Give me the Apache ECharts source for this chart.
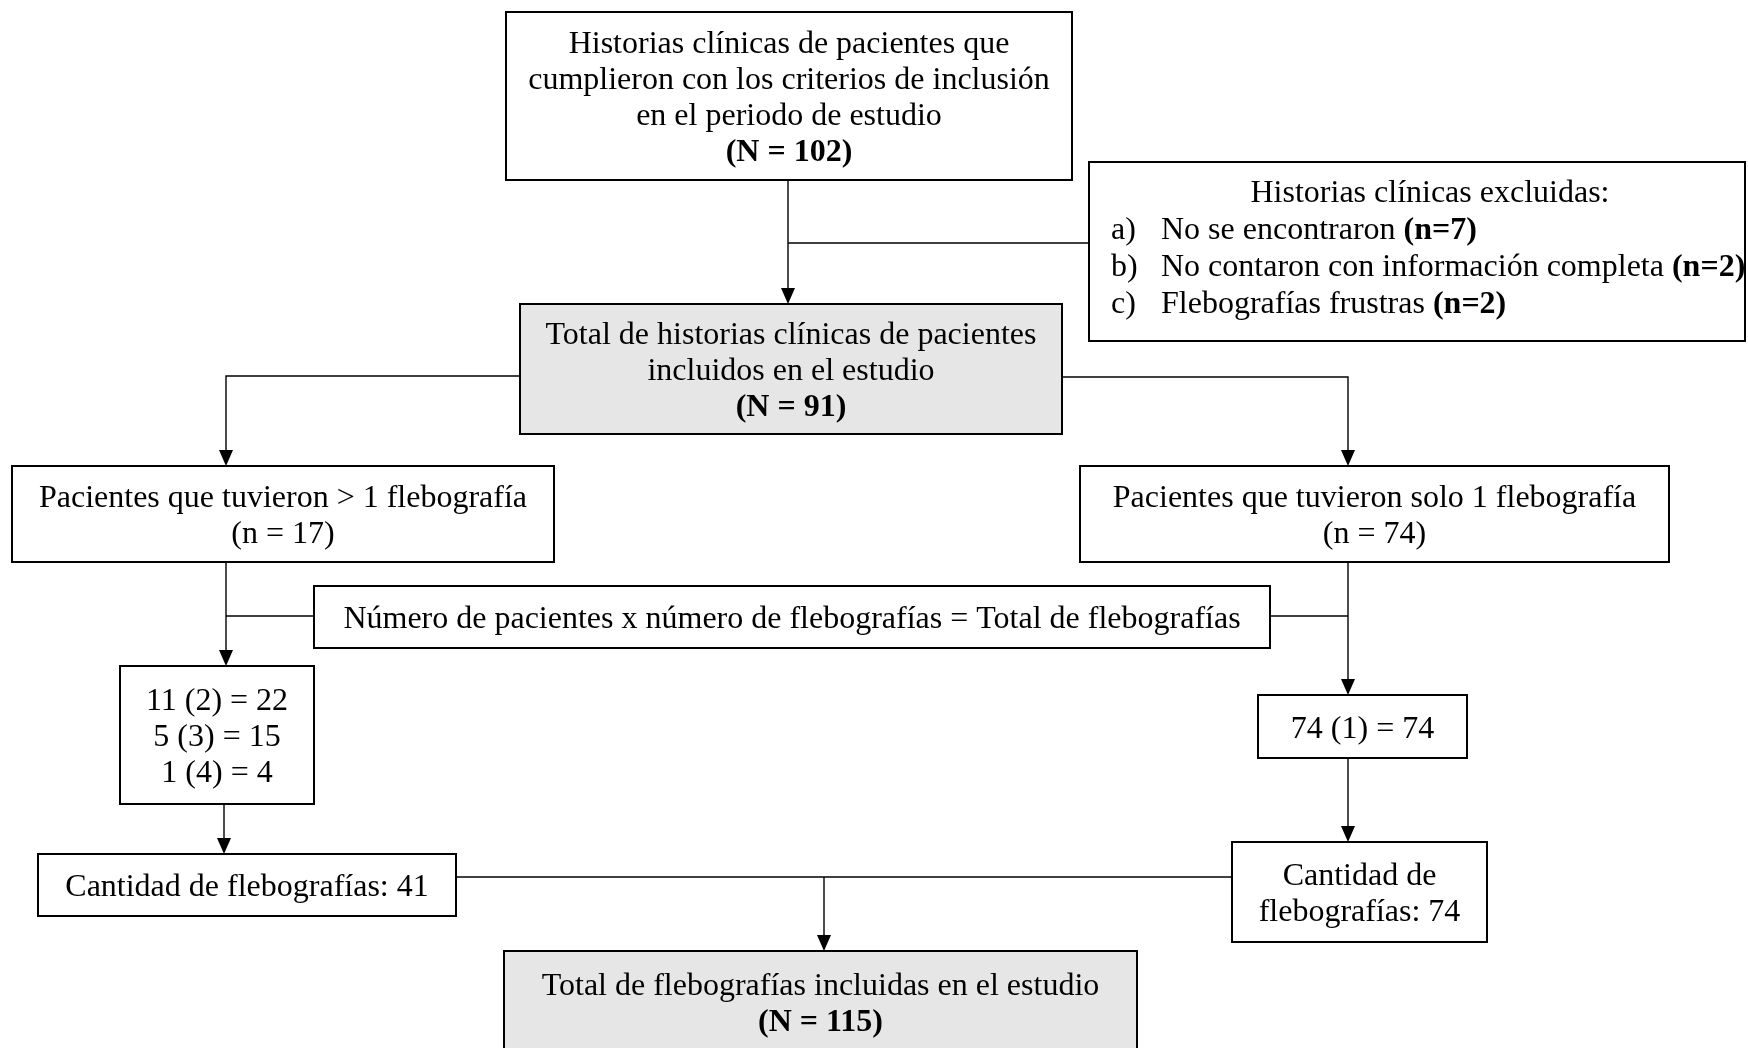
<!DOCTYPE html>
<html>
<head>
<meta charset="utf-8">
<script src="https://cdn.jsdelivr.net/npm/echarts@6/dist/echarts.min.js"></script>
<style>
html,body{margin:0;padding:0;background:#ffffff;}
#chart{width:1748px;height:1048px;}
</style>
</head>
<body>
<div id="chart"></div>
<script>
// ---------------- DATA (content of the flow chart) ----------------
const totalHistorias = 102;
const inicioLines = ['Historias clínicas de pacientes que', 'cumplieron con los criterios de inclusión', 'en el periodo de estudio'];
const exclusionTitle = 'Historias clínicas excluidas:';
const exclusionMarks = ['a)', 'b)', 'c)'];
const exclusionReasons = ['No se encontraron', 'No contaron con información completa', 'Flebografías frustras'];
const exclusionCounts = [7, 2, 2];
const incluidosLines = ['Total de historias clínicas de pacientes', 'incluidos en el estudio'];
const incluidos = 91;
const groupLabels = ['Pacientes que tuvieron > 1 flebografía', 'Pacientes que tuvieron solo 1 flebografía'];
const groupCounts = [17, 74];
const formulaText = 'Número de pacientes x número de flebografías = Total de flebografías';
const multiPatients = [11, 5, 1];
const multiPerPatient = [2, 3, 4];
const multiTotals = [22, 15, 4];
const singlePatients = [74];
const singlePerPatient = [1];
const singleTotals = [74];
const flebosLabel = 'Cantidad de flebografías: ';
const flebosByGroup = [41, 74];
const finalLabel = 'Total de flebografías incluidas en el estudio';
const totalFlebos = 115;

// ---------------- LAYOUT (positions / sizes, chart units) ----------------
// each box: [x0, y0, x1, y1]
const boxRects = [
  [506, 12, 1072, 180],    // inicio
  [1089, 162, 1745, 341],  // excluidas
  [520, 304, 1062, 434],   // incluidos
  [12, 466, 554, 562],     // > 1 flebografía
  [1080, 466, 1669, 562],  // solo 1 flebografía
  [314, 586, 1270, 648],   // formula
  [120, 666, 314, 804],    // calc multi
  [1258, 695, 1467, 758],  // calc single
  [38, 854, 456, 916],     // cantidad 41
  [1232, 842, 1487, 942],  // cantidad 74
  [504, 951, 1137, 1052]   // total final
];
const boxShaded = [false, false, true, false, false, false, false, false, false, false, true];
// connector polylines; last point gets an arrowhead when arrow = true
const connectors = [
  { pts: [[788, 180], [788, 304]], arrow: true },
  { pts: [[788, 243], [1089, 243]], arrow: false },
  { pts: [[520, 376], [226, 376], [226, 466]], arrow: true },
  { pts: [[1062, 377], [1348, 377], [1348, 466]], arrow: true },
  { pts: [[226, 562], [226, 666]], arrow: true },
  { pts: [[314, 616], [226, 616]], arrow: false },
  { pts: [[1348, 562], [1348, 695]], arrow: true },
  { pts: [[1270, 616], [1348, 616]], arrow: false },
  { pts: [[224, 804], [224, 854]], arrow: true },
  { pts: [[1348, 758], [1348, 842]], arrow: true },
  { pts: [[456, 877], [1232, 877]], arrow: false },
  { pts: [[824, 877], [824, 951]], arrow: true }
];
const exclusionTitleX = 1430;
const exclusionMarkX = 1111;
const exclusionTextX = 1161;

// ---------------- STYLE ----------------
const FONT = '"Liberation Serif", "Times New Roman", serif';
const FS = 32;
const LH = 36;
const LH_EXCL = 37;
const TEXT_DY = 3;
const TEXT_DY_EXCL = -2;
const SHADE = '#e6e6e6';
const AH = 16, AW = 14;

// ---------------- build texts ----------------
const B = s => '{b|' + s + '}';
const boxLines = [
  inicioLines.concat([B('(N = ' + totalHistorias + ')')]),
  null,
  incluidosLines.concat([B('(N = ' + incluidos + ')')]),
  [groupLabels[0], '(n = ' + groupCounts[0] + ')'],
  [groupLabels[1], '(n = ' + groupCounts[1] + ')'],
  [formulaText],
  multiPatients.map((p, i) => p + ' (' + multiPerPatient[i] + ') = ' + multiTotals[i]),
  singlePatients.map((p, i) => p + ' (' + singlePerPatient[i] + ') = ' + singleTotals[i]),
  [flebosLabel + flebosByGroup[0]],
  ['Cantidad de', 'flebografías: ' + flebosByGroup[1]],
  [finalLabel, B('(N = ' + totalFlebos + ')')]
];

const rich = { b: { fontWeight: 'bold', fontSize: FS, fontFamily: FONT, fill: '#000' } };
function textEl(x, y, text, align) {
  return {
    type: 'text',
    style: {
      x: x, y: y, text: text, fill: '#000',
      fontSize: FS, fontFamily: FONT, fontWeight: 'normal',
      align: align || 'center', verticalAlign: 'middle', rich: rich
    }
  };
}

const chart = echarts.init(document.getElementById('chart'), null, { renderer: 'canvas' });
chart.setOption({
  backgroundColor: '#ffffff',
  animation: false,
  grid: { left: 0, right: 0, top: 0, bottom: 0 },
  xAxis: { type: 'value', min: 0, max: 1748, show: false },
  yAxis: { type: 'value', min: 0, max: 1048, inverse: true, show: false },
  series: [
    {
      type: 'custom',
      coordinateSystem: 'cartesian2d',
      clip: false,
      silent: true,
      encode: { x: [0, 2], y: [1, 3] },
      data: boxRects,
      renderItem: function (params, api) {
        const i = params.dataIndex;
        const p0 = api.coord([api.value(0), api.value(1)]);
        const p1 = api.coord([api.value(2), api.value(3)]);
        const children = [{
          type: 'rect',
          shape: { x: p0[0], y: p0[1], width: p1[0] - p0[0], height: p1[1] - p0[1] },
          style: { fill: boxShaded[i] ? SHADE : '#ffffff', stroke: '#000', lineWidth: 2 }
        }];
        const cx = (p0[0] + p1[0]) / 2, cy = (p0[1] + p1[1]) / 2;
        const lines = boxLines[i];
        if (lines) {
          lines.forEach((t, k) => {
            children.push(textEl(cx, cy + (k - (lines.length - 1) / 2) * LH + TEXT_DY, t));
          });
        } else {
          const n = exclusionMarks.length + 1;
          const yAt = k => cy + (k - (n - 1) / 2) * LH_EXCL + TEXT_DY_EXCL;
          const tx = api.coord([exclusionTitleX, 0])[0];
          const mx = api.coord([exclusionMarkX, 0])[0];
          const rx = api.coord([exclusionTextX, 0])[0];
          children.push(textEl(tx, yAt(0), exclusionTitle));
          exclusionMarks.forEach((m, k) => {
            children.push(textEl(mx, yAt(k + 1), m, 'left'));
            children.push(textEl(rx, yAt(k + 1), exclusionReasons[k] + ' ' + B('(n=' + exclusionCounts[k] + ')'), 'left'));
          });
        }
        return { type: 'group', children: children };
      }
    },
    {
      type: 'custom',
      coordinateSystem: 'cartesian2d',
      clip: false,
      silent: true,
      data: connectors.map(c => c.pts[0]),
      renderItem: function (params, api) {
        const c = connectors[params.dataIndex];
        const px = c.pts.map(p => api.coord(p));
        const children = [];
        let linePts = px.slice();
        if (c.arrow) {
          const tip = px[px.length - 1], prev = px[px.length - 2];
          let dx = tip[0] - prev[0], dy = tip[1] - prev[1];
          const len = Math.sqrt(dx * dx + dy * dy);
          dx /= len; dy /= len;
          const base = [tip[0] - dx * AH, tip[1] - dy * AH];
          const nx = -dy, ny = dx;
          linePts[linePts.length - 1] = base;
          children.push({
            type: 'polygon',
            shape: { points: [tip, [base[0] + nx * AW / 2, base[1] + ny * AW / 2], [base[0] - nx * AW / 2, base[1] - ny * AW / 2]] },
            style: { fill: '#000', stroke: 'none' }
          });
        }
        children.unshift({
          type: 'polyline',
          shape: { points: linePts },
          style: { stroke: '#000', lineWidth: 1.4, fill: 'none' }
        });
        return { type: 'group', children: children };
      }
    }
  ]
});
</script>
</body>
</html>
